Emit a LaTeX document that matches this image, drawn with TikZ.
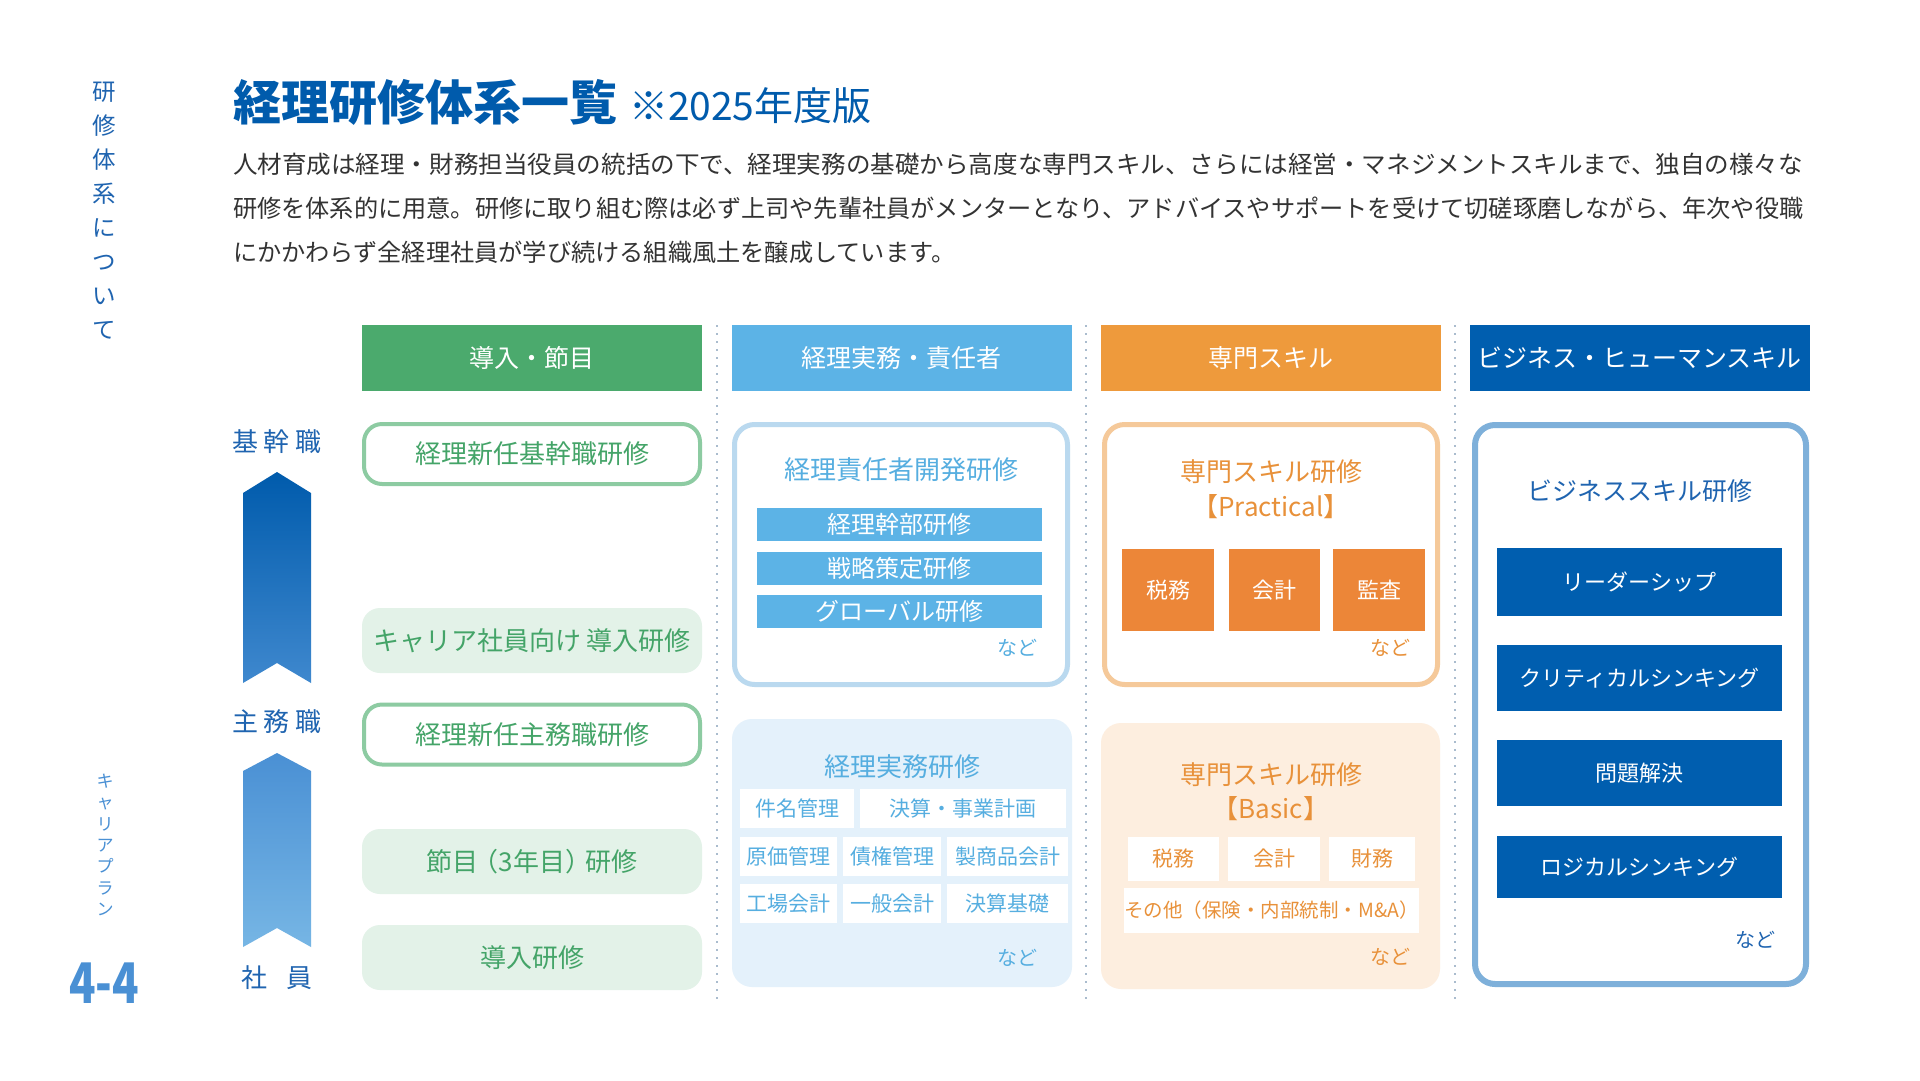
\documentclass[tikz,border=0pt]{standalone}
\usepackage{fontspec}
\setmainfont{Noto Sans CJK JP}
\usepackage{tkz-euclide}
\usepackage{tikz}

\definecolor{navy}{HTML}{005BAC}
\definecolor{hdgreen}{HTML}{4BAA6D}
\definecolor{lngreen}{HTML}{8DCBA2}
\definecolor{bggreen}{HTML}{E3F2E8}
\definecolor{txgreen}{HTML}{44A468}
\definecolor{hdsky}{HTML}{5CB3E6}
\definecolor{lnsky}{HTML}{BAD9EF}
\definecolor{bgsky}{HTML}{E4F1FB}
\definecolor{txsky}{HTML}{56AEE0}
\definecolor{hdorange}{HTML}{EE9A3C}
\definecolor{lnorange}{HTML}{F5C99A}
\definecolor{bgorange}{HTML}{FDEEDF}
\definecolor{txorange}{HTML}{E8913A}
\definecolor{boxorange}{HTML}{EC8638}
\definecolor{hdnavy}{HTML}{005EAF}
\definecolor{lnnavy}{HTML}{7EB0DA}
\definecolor{txnavy}{HTML}{1F64B0}
\definecolor{bodygray}{HTML}{333333}
\definecolor{midblue}{HTML}{4A90D4}
\definecolor{dotgray}{HTML}{AABCCE}

\begin{document}
\begin{tikzpicture}[x=1pt, y=-1pt,
    every node/.style={inner sep=0pt, outer sep=0pt},
    fsz/.style={font=\fontsize{#1}{#1}\selectfont},
    wh/.style 2 args={minimum width=#1pt, minimum height=#2pt},
    colhead/.style={wh={340}{66}, text=white, fsz=25},
    ringbox/.style={draw=lngreen, line width=4pt, fill=white, rounded corners=18pt, wh={336}{60}, text=txgreen, fsz=26},
    softbox/.style={fill=bggreen, rounded corners=18pt, wh={340}{65}, text=txgreen, fsz=26},
    panel/.style={draw=#1, line width=5pt, fill=white, rounded corners=20pt},
    tint/.style={fill=#1, rounded corners=20pt},
    barbox/.style={fill=#1, text=white},
    chip/.style={fill=white},
    nado/.style={fsz=20},
    divider/.style={draw=dotgray, line width=2pt, dash pattern=on 2pt off 6pt}]
    \fill[white] (0,0) rectangle (1920,1080);
    \useasboundingbox (0,0) rectangle (1920,1080);
    % heading and lead text
    \node[anchor=west, text=navy, font=\fontsize{48}{48}\selectfont\bfseries] (title) at (233,102) {経理研修体系一覧};
    \node[anchor=base west, text=navy, fsz=39] (edition) at ([xshift=12pt]title.base east) {※2025年度版};
    \node[anchor=west, text=bodygray, fsz=24.2] (lineA) at (233,164) {\scalebox{1.015}[1]{人材育成は経理・財務担当役員の統括の下で、経理実務の基礎から高度な専門スキル、さらには経営・マネジメントスキルまで、独自の様々な}};
    \node[anchor=west, text=bodygray, fsz=24.2] (lineB) at (233,208) {研修を体系的に用意。研修に取り組む際は必ず上司や先輩社員がメンターとなり、アドバイスやサポートを受けて切磋琢磨しながら、年次や役職};
    \node[anchor=west, text=bodygray, fsz=24.2] (lineC) at (233,252) {にかかわらず全経理社員が学び続ける組織風土を醸成しています。};
    % side strip
    \node[text=txnavy, align=center, font=\fontsize{23.5}{34}\selectfont] (side) at (104,211) {研\\修\\体\\系\\に\\つ\\い\\て};
    \node[text=midblue, align=center, font=\fontsize{17}{21.3}\selectfont] (plan) at (105,845) {キ\\ャ\\リ\\ア\\プ\\ラ\\ン};
    \node[text=midblue, font=\fontsize{56}{56}\selectfont\bfseries] (page) at (104,983) {\scalebox{0.78}[1]{4-4}};
    % levels
    \node[text=txnavy, fsz=26] (lvA) at (277,442) {基\hspace{6pt}幹\hspace{6pt}職};
    \node[text=txnavy, fsz=26] (lvB) at (277,722) {主\hspace{6pt}務\hspace{6pt}職};
    \node[text=txnavy, fsz=26] (lvC) at (277,978) {社\hspace{20pt}員};
    \tkzDefPoints{243/493/A,277/472/B,311/493/C,311/683/D,277/663/E,243/683/F}
    \shade[top color=navy, bottom color=midblue!85!navy] (A)--(B)--(C)--(D)--(E)--(F)--cycle;
    \tkzDefPoints{243/771/G,277/753/H,311/771/I,311/947/J,277/928/K,243/947/L}
    \shade[top color=midblue, bottom color=midblue!45!hdsky!80!white] (G)--(H)--(I)--(J)--(K)--(L)--cycle;
    % column heads
    \node[colhead, fill=hdgreen] (hdA) at (532,358) {導入・節目};
    \node[colhead, fill=hdsky] (hdB) at (901.5,358) {経理実務・責任者};
    \node[colhead, fill=hdorange] (hdC) at (1271,358) {専門スキル};
    \node[colhead, fill=hdnavy] (hdD) at (1639.5,358) {ビジネス・ヒューマンスキル};
    \draw[divider] (717,325) -- (717,1000);
    \draw[divider] (1086,325) -- (1086,1000);
    \draw[divider] (1455,325) -- (1455,1000);
    % intro column
    \node[ringbox] (kanbu) at (532,454) {経理新任基幹職研修};
    \node[softbox] (career) at (532,640.5) {キャリア社員向け 導入研修};
    \node[ringbox] (shumu) at (532,734.5) {経理新任主務職研修};
    \node[softbox] (fushime) at (532,861.5) {節目\hspace{-6pt}（3年目）\hspace{-6pt}研修};
    \node[softbox] (dounyu) at (532,957.5) {導入研修};
    % practice column
    \node[panel=lnsky, wh={333}{260}] (resp) at (901,554.5) {};
    \node[text=txsky, fsz=26] (respT) at (901,470) {経理責任者開発研修};
    \node[barbox=hdsky, wh={285}{33}, fsz=24] (rA) at (899.5,524.5) {経理幹部研修};
    \node[barbox=hdsky, wh={285}{33}, fsz=24] (rB) at (899.5,568.5) {戦略策定研修};
    \node[barbox=hdsky, wh={285}{33}, fsz=24] (rC) at (899.5,611.5) {グローバル研修};
    \node[nado, text=txsky] (respN) at (1017,648) {など};
    \node[tint=bgsky, wh={340}{268}] (prac) at (902,853) {};
    \node[text=txsky, fsz=26] (pracT) at (902,767) {経理実務研修};
    \node[chip, wh={114}{39}, text=txsky, fsz=21] (pA) at (797,808.5) {件名管理};
    \node[chip, wh={206}{39}, text=txsky, fsz=21] (pB) at (963,808.5) {決算・事業計画};
    \node[chip, wh={97}{39}, text=txsky, fsz=21] (pC) at (788.5,856.5) {原価管理};
    \node[chip, wh={98}{39}, text=txsky, fsz=21] (pD) at (892,856.5) {債権管理};
    \node[chip, wh={121}{39}, text=txsky, fsz=21] (pE) at (1007.5,856.5) {製商品会計};
    \node[chip, wh={97}{39}, text=txsky, fsz=21] (pF) at (788.5,903.5) {工場会計};
    \node[chip, wh={98}{39}, text=txsky, fsz=21] (pG) at (892,903.5) {一般会計};
    \node[chip, wh={121}{39}, text=txsky, fsz=21] (pH) at (1007.5,903.5) {決算基礎};
    \node[nado, text=txsky] (pracN) at (1017,958) {など};
    % skill column
    \node[panel=lnorange, wh={333}{260}] (pro) at (1271,554.5) {};
    \node[text=txorange, align=center, font=\fontsize{26}{35}\selectfont] (proT) at (1271,489.5) {専門スキル研修\\【Practical】};
    \node[barbox=boxorange, wh={92}{82}, fsz=22] (oA) at (1168,590) {税務};
    \node[barbox=boxorange, wh={91}{82}, fsz=22] (oB) at (1274.5,590) {会計};
    \node[barbox=boxorange, wh={92}{82}, fsz=22] (oC) at (1379,590) {監査};
    \node[nado, text=txorange] (proN) at (1390,648) {など};
    \node[tint=bgorange, wh={339}{266}] (basic) at (1270.5,856) {};
    \node[text=txorange, align=center, font=\fontsize{26}{34}\selectfont] (basicT) at (1271,792) {専門スキル研修\\【Basic】};
    \node[chip, wh={91}{44}, text=txorange, fsz=21] (sA) at (1173.5,859) {税務};
    \node[chip, wh={92}{44}, text=txorange, fsz=21] (sB) at (1274,859) {会計};
    \node[chip, wh={86}{44}, text=txorange, fsz=21] (sC) at (1372,859) {財務};
    \node[chip, wh={287}{45}, text=txorange, fsz=19.5] (sD) at (1271.5,910.5) {その他（保険・内部統制・M\&A）};
    \node[nado, text=txorange] (basicN) at (1390,957) {など};
    % business column
    \node[panel=lnnavy, line width=6pt, wh={331}{559}] (biz) at (1640.5,704.5) {};
    \node[text=txnavy, fsz=25] (bizT) at (1640,491) {ビジネススキル研修};
    \node[barbox=hdnavy, wh={285}{68}, fsz=22] (ldr) at (1639.5,582) {リーダーシップ};
    \node[barbox=hdnavy, wh={285}{66}, fsz=22] (crit) at (1639.5,678) {クリティカルシンキング};
    \node[barbox=hdnavy, wh={285}{66}, fsz=22] (solve) at (1639.5,773) {問題解決};
    \node[barbox=hdnavy, wh={285}{62}, fsz=22] (logic) at (1639.5,867) {ロジカルシンキング};
    \node[nado, text=txnavy] (bizN) at (1755,940) {など};
\end{tikzpicture}
\end{document}
